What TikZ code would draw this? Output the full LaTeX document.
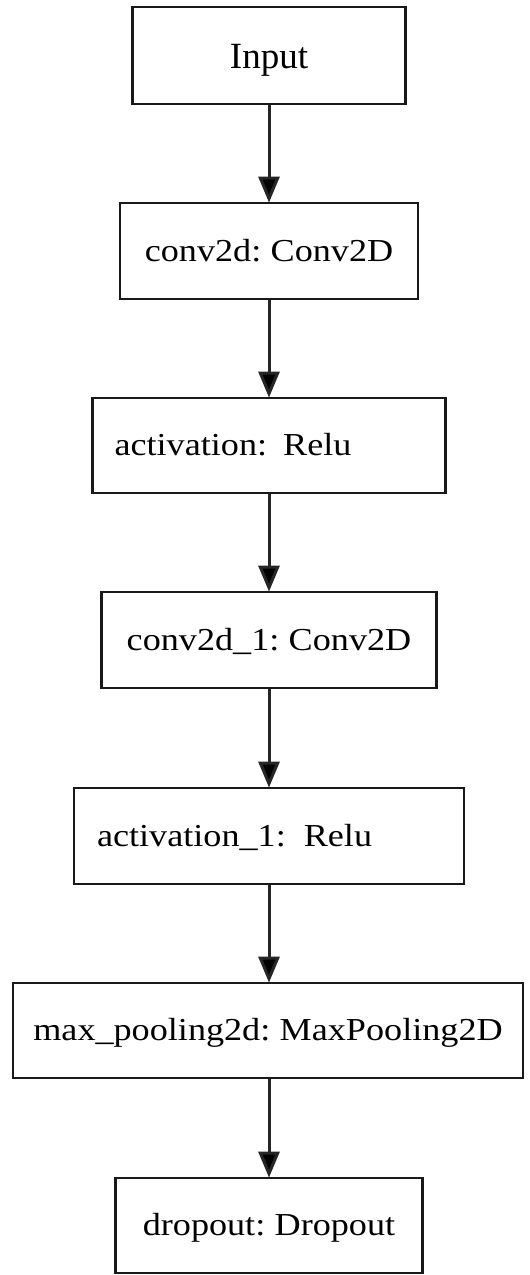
\documentclass[tikz,border=0pt]{standalone}
\usepackage{fontspec}
\setmainfont[FakeStretch=1.13,WordSpace=0.7]{Liberation Serif}
\newfontfamily\inputfont{Liberation Serif}
\usetikzlibrary{arrows.meta}
\begin{document}
\begin{tikzpicture}[x=1pt,y=1pt,
  layer/.style={draw=black!90, line width=2.8pt, fill=white, rectangle,
    inner sep=0pt, text height=20pt, text depth=0pt,
    font=\fontsize{32}{38}\selectfont},
  arr/.style={draw=black!85, line width=3pt,
    -{Triangle[width=21pt,length=26pt,fill=black]}, shorten >=-1pt}]
\useasboundingbox (0,0) rectangle (530,-1275);
\node[layer, minimum width=273, minimum height=97, text height=25pt,
  font=\inputfont\fontsize{37}{44}\selectfont] (in) at (269,-55.5) {Input};
\node[layer, minimum width=298, minimum height=96] (c1) at (269,-251) {conv2d: Conv2D};
\node[layer, minimum height=95, inner xsep=22pt, text width=309pt, align=left] (a1) at (269,-445.5) {activation: Relu};
\node[layer, minimum width=335, minimum height=96] (c2) at (269,-640) {conv2d\_1: Conv2D};
\node[layer, minimum height=96, inner xsep=23pt, text width=344pt, align=left] (a2) at (269,-836) {activation\_1:\hspace{18pt}Relu};
\node[layer, minimum width=510, minimum height=95] (mp) at (268,-1030.5) {max\_pooling2d: MaxPooling2D};
\node[layer, minimum width=307, minimum height=95] (dr) at (269,-1225.5) {dropout: Dropout};
\draw[arr] (in.south) -- (c1.north);
\draw[arr] (c1.south) -- (a1.north);
\draw[arr] (a1.south) -- (c2.north);
\draw[arr] (c2.south) -- (a2.north);
\draw[arr] (a2.south) -- (a2.south |- mp.north);
\draw[arr] (dr.north |- mp.south) -- (dr.north);
\end{tikzpicture}
\end{document}
